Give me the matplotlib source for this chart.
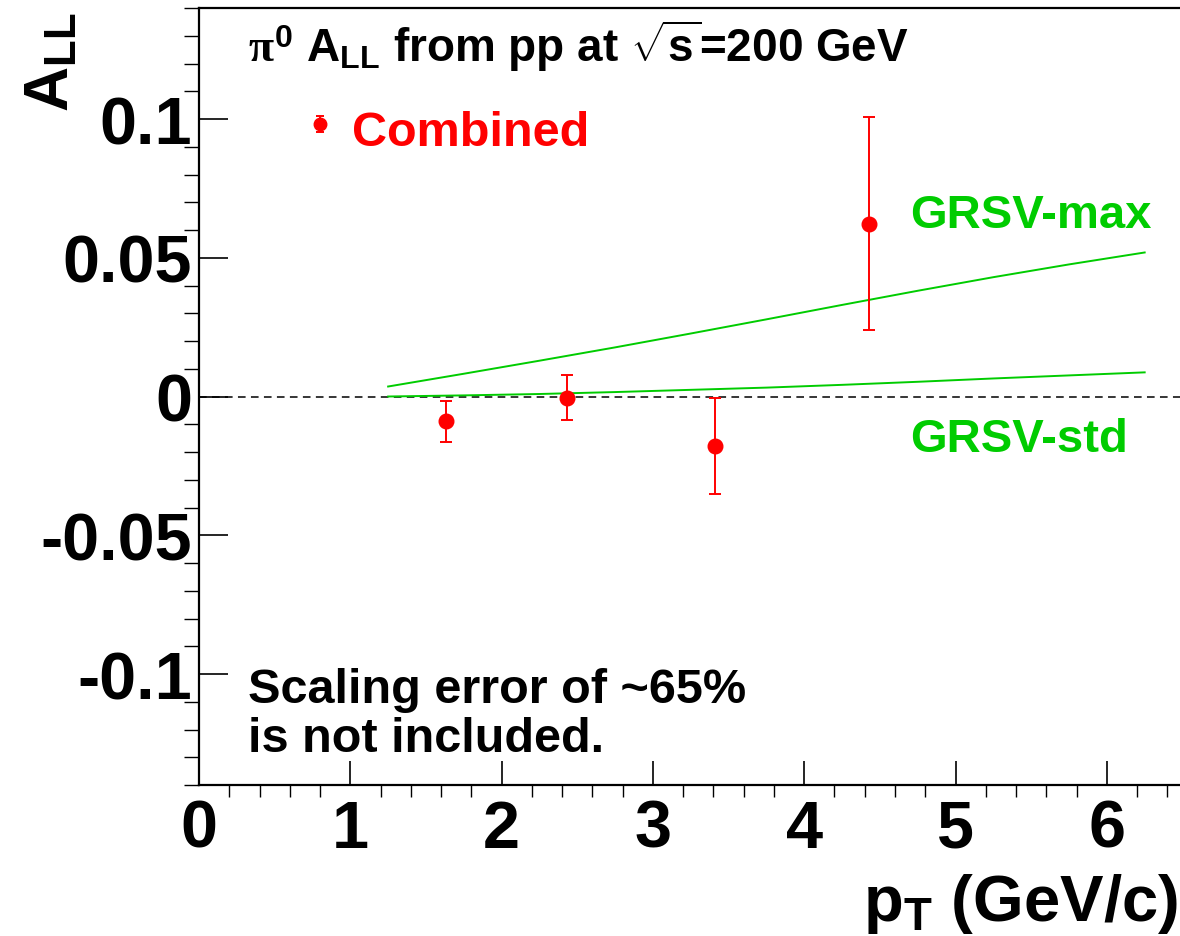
import numpy as np
import matplotlib
matplotlib.use("Agg")
import matplotlib.pyplot as plt
from matplotlib import font_manager

# combined pi0 A_LL points
pt = [1.63, 2.43, 3.41, 4.43]
all_val = [-0.0090, -0.0005, -0.0178, 0.0623]
all_err = [0.0075, 0.0081, 0.0172, 0.0385]

# GRSV theory curves
pt_th = [1.25, 1.75, 2.25, 2.75, 3.25, 3.75, 4.25, 4.75, 5.25, 5.75, 6.25]
grsv_max = [0.0036, 0.0082, 0.0129, 0.0177, 0.0227, 0.0278, 0.0330, 0.0381, 0.0430, 0.0476, 0.0519]
grsv_std = [0.0000, 0.0004, 0.0009, 0.0016, 0.0024, 0.0032, 0.0042, 0.0053, 0.0065, 0.0076, 0.0087]

xticks = [0, 1, 2, 3, 4, 5, 6]
yticks = [-0.1, -0.05, 0, 0.05, 0.1]
ytick_labels = ["-0.1", "-0.05", "0", "0.05", "0.1"]

names = {f.name for f in font_manager.fontManager.ttflist}
FONT = "Liberation Sans Narrow" if "Liberation Sans Narrow" in names else "Liberation Sans"

plt.rcParams['font.family'] = [FONT, 'DejaVu Sans']
plt.rcParams['font.weight'] = 'bold'
plt.rcParams['mathtext.fontset'] = 'custom'
plt.rcParams['mathtext.rm'] = FONT + ':bold'
plt.rcParams['mathtext.bf'] = FONT + ':bold'
plt.rcParams['mathtext.it'] = 'Liberation Serif'

RED = '#ff0000'
GREEN = '#00cc00'
W, H = 1180, 937

fig = plt.figure(figsize=(W / 100, H / 100), dpi=100)
ax = fig.add_axes([199 / W, 1 - 786 / H, 983.5 / W, 777 / H])

ax.axhline(0, color='black', lw=1.1, ls=(0, (5, 3.5)), zorder=1)
ax.plot(pt_th, grsv_max, color=GREEN, lw=1.4, zorder=2)
ax.plot(pt_th, grsv_std, color=GREEN, lw=1.4, zorder=2)
ax.errorbar(pt, all_val, yerr=all_err, fmt='o', color=RED, ms=10.5,
            elinewidth=1.4, capsize=4, capthick=1.4, zorder=3)

ax.set_xlim(0, 6.5)
ax.set_ylim(-0.14, 0.14)
ax.set_xticks(xticks)
ax.set_xticks(np.arange(0, 6.5, 0.2), minor=True)
ax.set_yticks(yticks)
ax.set_yticklabels(ytick_labels)
ax.set_yticks(np.arange(-0.14, 0.141, 0.01), minor=True)
ax.tick_params(axis='both', direction='in', labelsize=48, width=1.2)
ax.tick_params(axis='x', which='major', length=17, pad=10)
ax.tick_params(axis='x', which='minor', length=8.5, width=1.0)
ax.tick_params(axis='y', which='major', length=21, pad=5)
ax.tick_params(axis='y', which='minor', length=10.5, width=1.0)
for s in ax.spines.values():
    s.set_linewidth(1.6)

# axis titles
fig.text(52 / W, 1 - 12 / H, r'A$_{\mathbf{LL}}$', rotation=90, ha='center', va='top',
         fontsize=45)
fig.text(1178 / W, 1 - 921 / H, r'p$_{\mathbf{T}}$ (GeV/c)', ha='right', va='baseline',
         fontsize=47)

# labels inside the frame
fig.text(248 / W, 1 - 62 / H, r'$\pi^{\mathbf{0}}$ A$_{\mathbf{LL}}$ from pp at $\sqrt{\mathbf{s}}$=200 GeV',
         ha='left', va='baseline', fontsize=33)
ax.errorbar([0.8], [0.0982], yerr=[0.0028], fmt='o', color=RED, ms=9,
            elinewidth=1.4, capsize=3, capthick=1.4)
fig.text(352 / W, 1 - 146 / H, 'Combined', color=RED, ha='left', va='baseline', fontsize=35)
fig.text(910 / W, 1 - 228 / H, 'GRSV-max', color=GREEN, ha='left', va='baseline', fontsize=34)
fig.text(910 / W, 1 - 452 / H, 'GRSV-std', color=GREEN, ha='left', va='baseline', fontsize=34)
fig.text(248 / W, 1 - 703 / H, 'Scaling error of ~65%', ha='left', va='baseline', fontsize=35)
fig.text(248 / W, 1 - 752 / H, 'is not included.', ha='left', va='baseline', fontsize=35)

fig.savefig('out.png', dpi=100)
